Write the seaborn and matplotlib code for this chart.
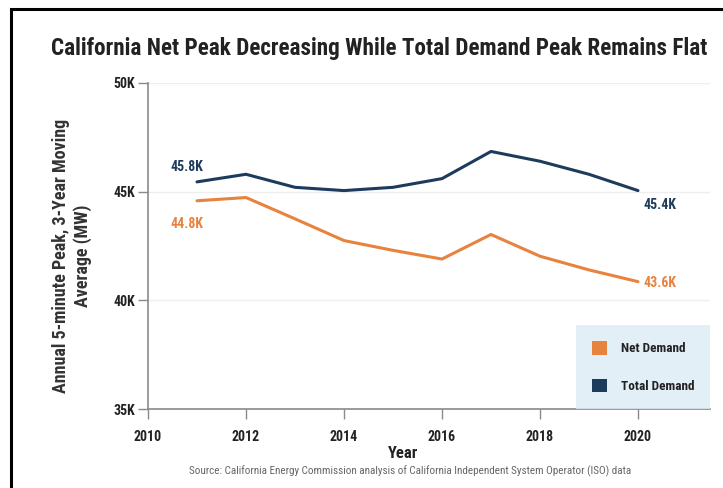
import numpy as np
import pandas as pd
import matplotlib.pyplot as plt
import seaborn as sns
from matplotlib.patches import Patch, Rectangle

# ---- Data (MW) ----
years = [2011, 2012, 2013, 2014, 2015, 2016, 2017, 2018, 2019, 2020]
total_demand = [45450, 45800, 45200, 45050, 45200, 45600, 46850, 46400, 45800, 45050]
net_demand = [44580, 44730, 43750, 42750, 42300, 41900, 43030, 42030, 41400, 40860]

y_ticks = [35000, 40000, 45000, 50000]
y_tick_labels = ["35K", "40K", "45K", "50K"]
x_ticks = [2010, 2012, 2014, 2016, 2018, 2020]

start_labels = ["45.8K", "44.8K"]   # total, net
end_labels = ["45.4K", "43.6K"]

NAVY = "#1d3b5c"
ORANGE = "#e8823f"
LEGEND_BG = "#dcebf5"

df = pd.DataFrame({
    "Year": years * 2,
    "MW": total_demand + net_demand,
    "Series": ["Total Demand"] * len(years) + ["Net Demand"] * len(years),
})

sns.set_theme(style="white")
plt.rcParams["font.family"] = ["Roboto Condensed", "DejaVu Sans"]

fig = plt.figure(figsize=(7.23, 4.88), dpi=100)
ax = fig.add_axes([148 / 723, 1 - 409 / 488, (710 - 148) / 723, (409 - 83) / 488])

sns.lineplot(data=df, x="Year", y="MW", hue="Series",
             palette={"Total Demand": NAVY, "Net Demand": ORANGE},
             linewidth=2.2, ax=ax, legend=False)

ax.set_xlim(2010, 2021.47)
ax.set_ylim(35000, 50000)
ax.set_yticks(y_ticks)
ax.set_yticklabels(y_tick_labels)
ax.set_xticks(x_ticks)
ax.set_xticklabels([str(x) for x in x_ticks])
for lab in ax.get_xticklabels() + ax.get_yticklabels():
    lab.set_fontweight("bold")
    lab.set_fontsize(10)
    lab.set_color("#222222")

ax.grid(axis="y", color="#eeeeee", linewidth=1)
ax.set_axisbelow(True)
sns.despine(ax=ax)
for s in ["left", "bottom"]:
    ax.spines[s].set_color("#8a8a8a")
    ax.spines[s].set_linewidth(1.2)
ax.tick_params(axis="both", which="both", direction="out", length=7,
               color="#8a8a8a", width=1, bottom=True, left=True)
ax.tick_params(axis="x", pad=8)
ax.tick_params(axis="y", pad=2)

ax.set_xlabel("Year", fontsize=12, fontweight="bold", color="#222222", labelpad=0)
ax.xaxis.set_label_coords((403 - 148) / (710 - 148), -0.115)
ax.set_ylabel("Annual 5-minute Peak, 3-Year Moving\nAverage (MW)",
              fontsize=13, fontweight="bold", color="#333333", linespacing=1.2)
ax.yaxis.set_label_coords(-0.1, 0.47)

# value labels at start / end of series
ax.text(years[0] - 0.55, total_demand[0] + 700, start_labels[0], color=NAVY,
        fontsize=10, fontweight="bold", ha="left", va="center")
ax.text(years[0] - 0.55, net_demand[0] - 1050, start_labels[1], color=ORANGE,
        fontsize=10, fontweight="bold", ha="left", va="center")
ax.text(years[-1] + 0.12, total_demand[-1] - 650, end_labels[0], color=NAVY,
        fontsize=10, fontweight="bold", ha="left", va="center")
ax.text(years[-1] + 0.12, net_demand[-1] - 80, end_labels[1], color=ORANGE,
        fontsize=10, fontweight="bold", ha="left", va="center")

# legend box
handles = [Patch(facecolor=ORANGE, edgecolor="none", label="Net Demand"),
           Patch(facecolor=NAVY, edgecolor="none", label="Total Demand")]
leg = ax.legend(handles=handles, loc="lower right", bbox_to_anchor=(1.0, 0.0),
                frameon=True, fancybox=False, borderaxespad=0, borderpad=1.2,
                handlelength=1.2, handleheight=1.2, labelspacing=1.8,
                handletextpad=1.0, prop={"weight": "bold", "size": 9.5})
leg.get_frame().set_facecolor(LEGEND_BG)
leg.get_frame().set_edgecolor("none")
for t in leg.get_texts():
    t.set_color("#222222")

fig.text(379 / 723, 1 - 48 / 488,
         "California Net Peak Decreasing While Total Demand Peak Remains Flat",
         ha="center", va="center", fontsize=16.7, fontweight="bold", color="#222222")
fig.text(410 / 723, 1 - 471 / 488,
         "Source: California Energy Commission analysis of California Independent System Operator (ISO) data",
         ha="center", va="center", fontsize=8, color="#666666")

# outer black frame
fig.patches.append(Rectangle((11 / 723, -0.05), 1.1, 1 - 9 / 488 + 0.05,
                             transform=fig.transFigure, fill=False,
                             edgecolor="black", linewidth=2.2))

fig.savefig("out.png", dpi=100)
